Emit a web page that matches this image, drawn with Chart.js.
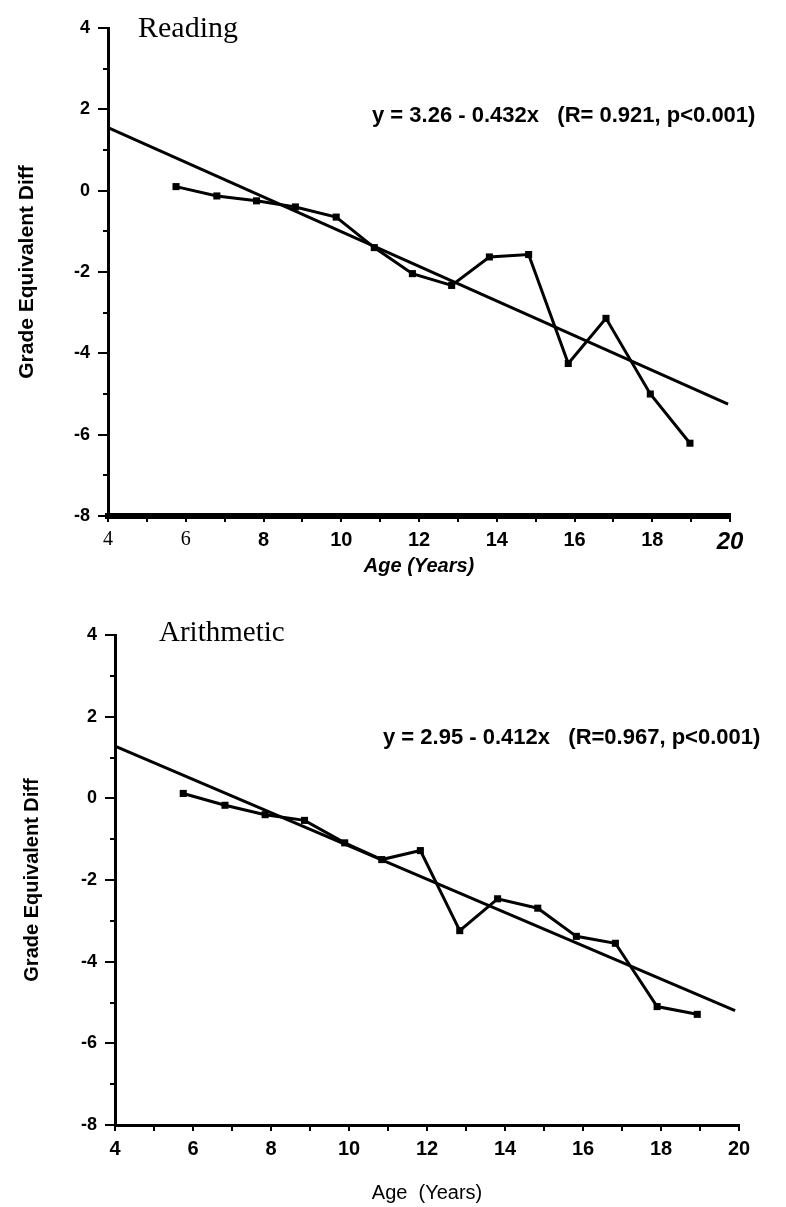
<!DOCTYPE html>
<html>
<head>
<meta charset="utf-8">
<script src="https://cdn.jsdelivr.net/npm/chart.js@4.4.1/dist/chart.umd.min.js"></script>
<style>
  html, body { margin: 0; padding: 0; background: #fff; }
  #wrap { position: relative; width: 786px; height: 1207px; overflow: hidden; background: #fff; }
  canvas { position: absolute; left: 0; }
  .lbl { position: absolute; white-space: pre; line-height: 1; color: #000; }
  .serif { font-family: "Liberation Serif", "Times New Roman", serif; }
  .eq { font-family: "Liberation Sans", Arial, sans-serif; font-weight: bold; font-size: 22px; }
</style>
</head>
<body>
<div id="wrap">
  <canvas id="c1" width="786" height="600" style="top:0"></canvas>
  <canvas id="c2" width="786" height="607" style="top:600px"></canvas>
  <div class="lbl serif" style="left:138px; top:12px; font-size:30px;">Reading</div>
  <div class="lbl eq" style="left:372px; top:104px;">y = 3.26 - 0.432x   (R= 0.921, p&lt;0.001)</div>
  <div class="lbl serif" style="left:159px; top:617px; font-size:29px;">Arithmetic</div>
  <div class="lbl eq" style="left:383px; top:726px;">y = 2.95 - 0.412x   (R=0.967, p&lt;0.001)</div>
</div>
<script>
// ---- data ----
const readingAges = [5.75, 6.8, 7.82, 8.82, 9.87, 10.85, 11.83, 12.84, 13.81, 14.82, 15.84, 16.81, 17.95, 18.97];
const readingDiff = [0.10, -0.13, -0.25, -0.40, -0.65, -1.40, -2.04, -2.33, -1.63, -1.57, -4.25, -3.14, -5.00, -6.21];
const readingFitX = [4, 19.95];
const readingFitY = [1.55, -5.25];

const arithAges = [5.75, 6.82, 7.85, 8.86, 9.89, 10.84, 11.83, 12.84, 13.81, 14.84, 15.83, 16.83, 17.9, 18.93];
const arithDiff = [0.12, -0.17, -0.40, -0.54, -1.09, -1.50, -1.28, -3.24, -2.46, -2.69, -3.38, -3.55, -5.10, -5.29];
const arithFitX = [4, 19.9];
const arithFitY = [1.28, -5.2];

const yTickValues = [4, 2, 0, -2, -4, -6, -8];
const xTickValues = [4, 6, 8, 10, 12, 14, 16, 18, 20];
const yTitle = 'Grade Equivalent Diff';
const xTitleTop = 'Age (Years)';
const xTitleBottom = 'Age  (Years)';

const SANS = '"Liberation Sans", Arial, Helvetica, sans-serif';
const SERIF = '"Liberation Serif", "Times New Roman", serif';

function pairs(xs, ys) { return xs.map((x, i) => ({ x: x, y: ys[i] })); }

function makeChart(id, cfg) {
  const ctx = document.getElementById(id).getContext('2d');
  return new Chart(ctx, {
    type: 'scatter',
    data: {
      datasets: [
        {
          data: pairs(cfg.ages, cfg.diff),
          showLine: true,
          borderColor: '#000',
          backgroundColor: '#000',
          borderWidth: 3,
          pointStyle: 'rect',
          pointRadius: 5,
          pointBorderWidth: 0,
          tension: 0
        },
        {
          data: pairs(cfg.fitX, cfg.fitY),
          showLine: true,
          borderColor: '#000',
          borderWidth: 3,
          pointRadius: 0,
          tension: 0
        }
      ]
    },
    options: {
      responsive: false,
      animation: false,
      devicePixelRatio: 1,
      layout: { padding: { left: 0, top: cfg.padTop, right: cfg.padRight, bottom: 0 } },
      plugins: { legend: { display: false }, tooltip: { enabled: false } },
      scales: {
        x: {
          type: 'linear',
          min: 4, max: 20,
          afterFit: (s) => { s.height = cfg.xHeight; },
          border: { display: true, color: '#000', width: cfg.xBorder },
          grid: { display: true, drawOnChartArea: false, drawTicks: true, tickLength: 6, color: '#000', lineWidth: 2 },
          ticks: {
            stepSize: 1,
            autoSkip: false,
            maxRotation: 0,
            padding: 6,
            color: '#000',
            font: cfg.xFont,
            callback: (v) => xTickValues.includes(v) ? String(v) : ''
          },
          title: {
            display: true,
            text: cfg.xTitle,
            color: '#000',
            font: cfg.xTitleFont,
            padding: { top: 0, bottom: cfg.xTitlePad }
          }
        },
        y: {
          type: 'linear',
          min: -8, max: 4,
          afterFit: (s) => { s.width = cfg.yWidth; },
          border: { display: true, color: '#000', width: 3 },
          grid: {
            display: true, drawOnChartArea: false, drawTicks: true, tickLength: 10, color: '#000', lineWidth: 2,
            tickBorderDash: (c) => (c.tick && Math.abs(c.tick.value % 2) === 1) ? [0, 5, 6, 0] : []
          },
          ticks: {
            stepSize: 1,
            autoSkip: false,
            padding: 8,
            color: '#000',
            font: { family: SANS, size: 18, weight: 'bold' },
            callback: (v) => yTickValues.includes(v) ? String(v) : ''
          },
          title: {
            display: true,
            text: yTitle,
            color: '#000',
            font: { family: SANS, size: cfg.yTitleSize, weight: 'bold' },
            padding: { top: cfg.yTitlePad, bottom: 0 }
          }
        }
      }
    }
  });
}

makeChart('c1', {
  ages: readingAges, diff: readingDiff, fitX: readingFitX, fitY: readingFitY,
  padTop: 28, padRight: 56, xHeight: 84, yWidth: 108, xBorder: 6,
  xFont: (c) => {
    const v = c.tick ? c.tick.value : 0;
    if (v <= 6) return { family: SERIF, size: 20, weight: 'normal' };
    if (v >= 20) return { family: SANS, size: 24, weight: 'bold', style: 'italic' };
    return { family: SANS, size: 20, weight: 'bold' };
  },
  xTitle: xTitleTop,
  xTitleFont: { family: SANS, size: 20, weight: 'bold', style: 'italic' },
  xTitlePad: 22,
  yTitleSize: 21, yTitlePad: 15
});

makeChart('c2', {
  ages: arithAges, diff: arithDiff, fitX: arithFitX, fitY: arithFitY,
  padTop: 35, padRight: 47, xHeight: 82, yWidth: 115, xBorder: 3,
  xFont: { family: SANS, size: 20, weight: 'bold' },
  xTitle: xTitleBottom,
  xTitleFont: { family: SANS, size: 20, weight: 'normal' },
  xTitlePad: 2,
  yTitleSize: 20, yTitlePad: 20
});
</script>
</body>
</html>
